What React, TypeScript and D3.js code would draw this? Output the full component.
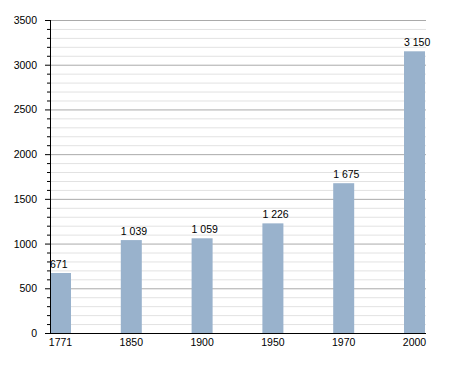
import React from "react";
import * as d3 from "d3";

const years = ["1771", "1850", "1900", "1950", "1970", "2000"];
const population = [671, 1039, 1059, 1226, 1675, 3150];
const yMajorTicks = [0, 500, 1000, 1500, 2000, 2500, 3000, 3500];

const W = 455;
const H = 373;
const left = 50;
const right = 426;
const top = 20;
const bottom = 333;

export default function App() {
  const y = d3.scaleLinear().domain([0, 3500]).range([bottom, top]);
  const x = d3.scalePoint<string>().domain(years).range([60.5, 414.5]);
  const barW = 21;
  const minor = d3.range(0, 3501, 100);
  const fmt = (v: number) => d3.format(",")(v).replace(/,/g, " ");
  const font = "'Liberation Sans', Arial, sans-serif";
  const fs = 10.5;

  return (
    <svg
      width={W}
      height={H}
      style={{ position: "absolute", left: 0, top: 0, background: "#fff" }}
      fontFamily={font}
    >
      {minor.map((v) =>
        v % 500 === 0 ? null : (
          <line key={"m" + v} x1={left} x2={right} y1={y(v) + 0.5} y2={y(v) + 0.5} stroke="#e2e2e2" strokeWidth={1} />
        )
      )}
      {yMajorTicks.map((v) => (
        <line key={"M" + v} x1={left} x2={right} y1={y(v) + 0.5} y2={y(v) + 0.5} stroke="#aaaaaa" strokeWidth={1} />
      ))}
      {population.map((v, i) => (
        <rect
          key={"b" + i}
          x={(x(years[i]) as number) - barW / 2}
          y={y(v)}
          width={barW}
          height={bottom - y(v)}
          fill="#99b2cc"
        />
      ))}
      {population.map((v, i) => (
        <text
          key={"l" + i}
          x={(x(years[i]) as number) - barW / 2}
          y={y(v) - 5}
          textAnchor="start"
          fontSize={fs}
          fill="#000"
        >
          {fmt(v)}
        </text>
      ))}
      {minor.map((v) => (
        <line
          key={"t" + v}
          x1={v % 500 === 0 ? left - 5 : left - 3}
          x2={left}
          y1={y(v) + 0.5}
          y2={y(v) + 0.5}
          stroke="#000"
          strokeWidth={1}
        />
      ))}
      {yMajorTicks.map((v) => (
        <text key={"yl" + v} x={37} y={y(v) + 4} textAnchor="end" fontSize={fs} fill="#000">
          {v}
        </text>
      ))}
      <line x1={left + 0.5} x2={left + 0.5} y1={top} y2={bottom + 1} stroke="#000" strokeWidth={1} />
      <line x1={left} x2={right} y1={bottom + 0.5} y2={bottom + 0.5} stroke="#000" strokeWidth={1} />
      {years.map((c) => (
        <text key={"xl" + c} x={x(c) as number} y={346} textAnchor="middle" fontSize={fs} fill="#000">
          {c}
        </text>
      ))}
    </svg>
  );
}
